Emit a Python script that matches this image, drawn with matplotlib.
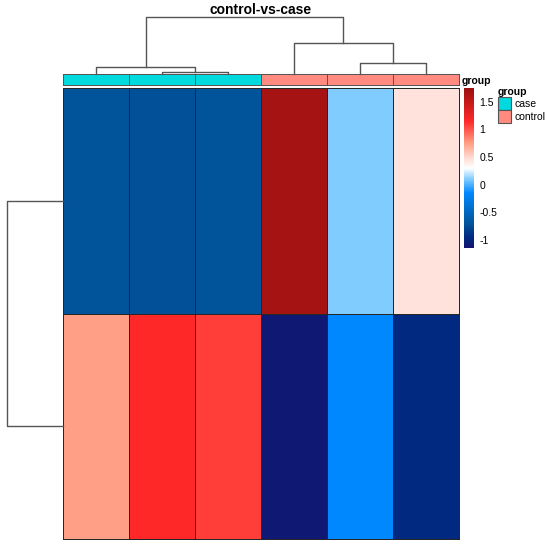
import numpy as np
import matplotlib
matplotlib.use('Agg')
import matplotlib.pyplot as plt
from matplotlib.colors import LinearSegmentedColormap, ListedColormap
from matplotlib.patches import Patch

plt.rcParams['font.family'] = ['Liberation Sans', 'DejaVu Sans']

# Samples in dendrogram order and their group annotation
samples = ['case1', 'case2', 'case3', 'control1', 'control2', 'control3']
groups = ['case', 'case', 'case', 'control', 'control', 'control']
group_names = ['case', 'control']
group_colors = ['#00D9DE', '#FF8A80']

# Row-scaled values (2 features x 6 samples)
values = np.array([
    [-0.70, -0.72, -0.70, 1.68, 0.10, 0.45],
    [0.75, 1.15, 1.08, -1.10, -0.15, -0.95],
])

# Clustering as (left node, right node, height); leaves are 0..n-1, merges get n, n+1, ...
col_merges = [(1, 2, 0.04), (4, 5, 0.20), (0, 6, 0.13), (3, 7, 0.54), (8, 9, 1.0)]
row_merges = [(0, 1, 1.0)]

# Colour scale
vmin, vmax = -1.15, 1.75
ramp_vals = [-1.15, -0.95, -0.70, -0.15, 0.10, 0.30, 0.45, 0.75, 1.15, 1.75]
ramp_cols = ['#131470', '#002A80', '#02559B', '#0088FF', '#80CCFF',
             '#FFFFFF', '#FFE3DC', '#FF9F85', '#FF2828', '#9B1010']
cbar_ticks = [-1, -0.5, 0, 0.5, 1, 1.5]

W, H = 550, 547
line_col = '#555555'


def box(x0, y0, x1, y1):
    # pixel box (top-left origin) -> figure fraction rect
    return [x0 / W, 1 - y1 / H, (x1 - x0) / W, (y1 - y0) / H]


def draw_dendro(ax, merges, n, top):
    pos = {i: i + 0.5 for i in range(n)}
    hgt = {i: 0.0 for i in range(n)}
    for k, (a, b, h) in enumerate(merges):
        xs = [pos[a], pos[a], pos[b], pos[b]]
        ys = [hgt[a], h, h, hgt[b]]
        if top:
            ax.plot(xs, ys, color=line_col, lw=1, clip_on=False)
        else:
            ax.plot(ys, xs, color=line_col, lw=1, clip_on=False)
        pos[n + k] = (pos[a] + pos[b]) / 2
        hgt[n + k] = h


cmap = LinearSegmentedColormap.from_list(
    'ramp', [((v - vmin) / (vmax - vmin), c) for v, c in zip(ramp_vals, ramp_cols)], N=256)

fig = plt.figure(figsize=(W / 100, H / 100), dpi=100)

# Heatmap
ax = fig.add_axes(box(63, 88, 459, 539))
mesh = ax.pcolormesh(values, cmap=cmap, vmin=vmin, vmax=vmax,
                     edgecolors='#262626', linewidth=0.7, clip_on=False)
ax.set_xlim(0, values.shape[1])
ax.set_ylim(values.shape[0], 0)
ax.axis('off')

# Group annotation bar
ax_ann = fig.add_axes(box(63, 74, 459, 85))
codes = np.array([[group_names.index(g) for g in groups]])
ax_ann.pcolormesh(codes, cmap=ListedColormap(group_colors), vmin=-0.5, vmax=1.5,
                  edgecolors=line_col, linewidth=0.7, clip_on=False)
ax_ann.set_xlim(0, len(groups))
ax_ann.axis('off')
ax_ann.text(1.006, 0.4, 'group', transform=ax_ann.transAxes, ha='left', va='center',
            fontsize=7.5, fontweight='bold')

# Column dendrogram
ax_cd = fig.add_axes(box(63, 17, 459, 74))
draw_dendro(ax_cd, col_merges, len(samples), top=True)
ax_cd.set_xlim(0, len(samples))
ax_cd.set_ylim(0, max(m[2] for m in col_merges))
ax_cd.axis('off')

# Row dendrogram
ax_rd = fig.add_axes(box(7, 88, 63, 539))
draw_dendro(ax_rd, row_merges, values.shape[0], top=False)
ax_rd.set_ylim(values.shape[0], 0)
ax_rd.set_xlim(max(m[2] for m in row_merges), 0)
ax_rd.axis('off')

# Title
fig.text(261 / W, 1 - 10 / H, 'control-vs-case', ha='center', va='center',
         fontsize=10, fontweight='bold')

# Colour bar
cax = fig.add_axes(box(464, 88, 474, 248))
cbar = fig.colorbar(mesh, cax=cax)
cbar.outline.set_visible(False)
cbar.set_ticks(cbar_ticks, labels=['%g' % t for t in cbar_ticks])
cax.tick_params(length=0, labelsize=7.5, pad=4)

# Legend
handles = [Patch(facecolor=c, edgecolor=line_col, linewidth=0.8, label=g)
           for g, c in zip(group_names, group_colors)]
fig.legend(handles=handles, title='group', loc='upper left',
           bbox_to_anchor=(498 / W, 1 - 87 / H), frameon=False, fontsize=7.5,
           title_fontproperties={'weight': 'bold', 'size': 7.5},
           handlelength=1.25, handleheight=1.55, labelspacing=0,
           handletextpad=0.3, borderpad=0, borderaxespad=0, alignment='left')

fig.savefig('out.png', dpi=100, facecolor='white')
